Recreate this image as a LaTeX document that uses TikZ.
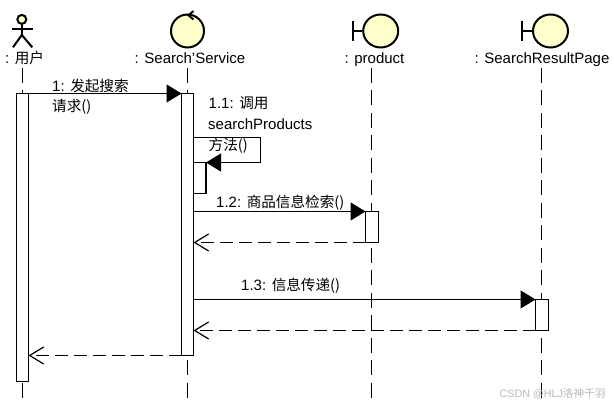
\documentclass[tikz,border=0pt]{standalone}
\usepackage{fontspec}
\setmainfont{Liberation Sans}
\newfontfamily\cjkf{Noto Sans CJK SC}
\usetikzlibrary{arrows.meta,shapes.geometric}
\definecolor{headfill}{HTML}{FFFFCC}
\definecolor{wmgray}{HTML}{B8B8B8}
\newcommand{\zh}[1]{{\cjkf\fontsize{14.6}{16}\selectfont #1}}
\tikzset{
  x=1pt,y=-1pt,
  stroke/.style={line width=1.2pt,draw=black},
  thick line/.style={line width=2pt,draw=black},
  head/.style={thick line,fill=headfill},
  lifeline/.style={stroke,dash pattern=on 15pt off 7.5pt},
  bar/.style={stroke,fill=white,rectangle,inner sep=0pt,outer sep=0pt,anchor=north west},
  msg/.style={stroke,-{Triangle[length=15pt,width=18pt,fill=black]}},
  reply/.style={stroke,dash pattern=on 12.5pt off 6.5pt,-{Straight Barb[length=14pt,width=17pt,line width=1.2pt]}},
  caption/.style={font=\fontsize{15}{16}\selectfont,inner sep=0pt,text=black,anchor=base},
  note/.style={font=\fontsize{15}{16}\selectfont,inner sep=0pt,text=black,anchor=base west}
}
\begin{document}
\begin{tikzpicture}
\useasboundingbox (0,0) rectangle (614,406);
% lifeline ends
\coordinate (uT) at (22.5,68); \coordinate (uB) at (22.5,400);
\coordinate (sT) at (187.5,68); \coordinate (sB) at (187.5,400);
\coordinate (pT) at (371.5,68); \coordinate (pB) at (371.5,400);
\coordinate (rT) at (541.5,68); \coordinate (rB) at (541.5,400);
\draw[lifeline] (uT) -- (uB);
\draw[lifeline] (sT) -- (sB);
\draw[lifeline] (pT) -- (pB);
\draw[lifeline] (rT) -- (rB);
% actor
\node[head,circle,minimum size=9pt,inner sep=0pt] (uhead) at (21.8,19.4) {};
\coordinate (uhip) at (21.8,35);
\coordinate (uarmL) at (12,29.3); \coordinate (uarmR) at (33,29.3);
\coordinate (ulegL) at (13,47.3); \coordinate (ulegR) at (32.3,47.3);
\draw[thick line] (uhead.south) -- (uhip);
\draw[thick line] (uarmL) -- (uarmR);
\draw[thick line] (ulegL) -- (uhip) -- (ulegR);
\node[caption] (ulabel) at (24.5,64) {: \zh{用户}};
% control
\node[head,circle,minimum size=33pt,inner sep=0pt] (shead) at (187.5,31) {};
\coordinate (scA) at (193.5,11); \coordinate (scB) at (188.5,15.3); \coordinate (scC) at (193.5,19.5);
\draw[thick line] (scA) -- (scB) -- (scC);
\node[caption] (slabel) at (190,64) {: Search'Service};
% boundaries
\node[head,ellipse,minimum width=35pt,minimum height=33pt,inner sep=0pt] (phead) at (380.7,31) {};
\coordinate (pbA) at (352.7,21); \coordinate (pbB) at (352.7,41); \coordinate (pbC) at (352.7,31);
\draw[thick line] (pbA) -- (pbB);
\draw[thick line] (pbC) -- (phead.west);
\node[caption] (plabel) at (374.5,64) {: product};
\node[head,ellipse,minimum width=35pt,minimum height=33pt,inner sep=0pt] (rhead) at (550.5,31) {};
\coordinate (rbA) at (521.7,21); \coordinate (rbB) at (521.7,41); \coordinate (rbC) at (521.7,31);
\draw[thick line] (rbA) -- (rbB);
\draw[thick line] (rbC) -- (rhead.west);
\node[caption] (rlabel) at (542,64) {: SearchResultPage};
% activation bars
\node[bar,minimum width=12pt,minimum height=288pt] (ua) at (16.5,93.5) {};
\node[bar,minimum width=12pt,minimum height=262pt] (sa) at (181.5,93.5) {};
\node[bar,minimum width=12.5pt,minimum height=31pt] (sn) at (193.5,162.5) {};
\node[bar,minimum width=13pt,minimum height=31pt] (pa) at (365.5,211.5) {};
\node[bar,minimum width=13pt,minimum height=31pt] (ra) at (535.5,299.5) {};
% messages
\draw[msg] (ua.north east) -- (sa.north west);
\coordinate (selfA) at (193.5,137.5); \coordinate (selfB) at (260.5,137.5); \coordinate (selfC) at (260.5,162.5);
\draw[msg] (selfA) -- (selfB) -- (selfC) -- (sn.north east);
\coordinate (m2) at (193.5,211.5);
\draw[msg] (m2) -- (pa.north west);
\coordinate (r2) at (193.5,242.5);
\draw[reply] (pa.south west) -- (r2);
\coordinate (m3) at (193.5,299.5);
\draw[msg] (m3) -- (ra.north west);
\coordinate (r3) at (193.5,330.5);
\draw[reply] (ra.south west) -- (r3);
\coordinate (r4) at (28.5,355.5);
\draw[reply] (sa.south west) -- (r4);
% labels
\node[note] (t1a) at (52,92) {1: \zh{发起搜索}};
\node[note] (t1b) at (52,112) {\zh{请求()}};
\node[note] (t2a) at (208.5,109) {1.1: \zh{调用}};
\node[note] (t2b) at (208,130) {searchProducts};
\node[note] (t2c) at (208.5,151) {\zh{方法()}};
\node[note] (t3) at (216,208) {1.2: \zh{商品信息检索()}};
\node[note] (t4) at (241,291) {1.3: \zh{信息传递()}};
\node[anchor=base west,inner sep=0pt,font=\fontsize{10.7}{12}\selectfont,text=wmgray] (wm) at (499.5,398) {CSDN @HLJ\zh{\fontsize{10.7}{12}\selectfont 洛神千羽}};
\end{tikzpicture}
\end{document}
